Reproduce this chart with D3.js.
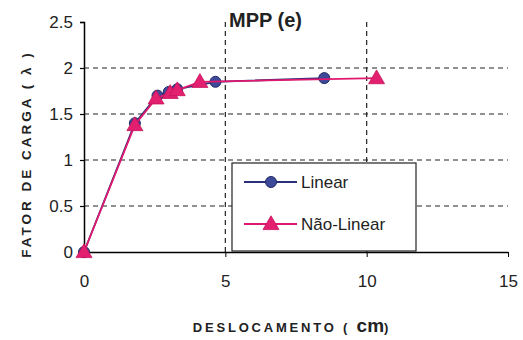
<!DOCTYPE html>
<html>
<head>
<meta charset="utf-8">
<script src="https://cdn.jsdelivr.net/npm/d3@7"></script>
<style>
  body { margin: 0; background: #fff; }
  text { font-family: "Liberation Sans", Arial, sans-serif; }
</style>
</head>
<body>
<svg id="chart" width="523" height="340"></svg>
<script>
// data
const linearX = [0, 1.8, 2.6, 3.0, 3.3, 4.65, 8.5];
const linearY = [0, 1.4, 1.7, 1.74, 1.77, 1.85, 1.89];
const naoLinearX = [0, 1.8, 2.55, 3.05, 3.3, 4.1, 10.35];
const naoLinearY = [0, 1.38, 1.67, 1.73, 1.76, 1.85, 1.89];
const xTicks = [0, 5, 10, 15];
const yTicks = [0, 0.5, 1, 1.5, 2, 2.5];
const seriesNames = ["Linear", "Não-Linear"];

const svg = d3.select("svg#chart");
const margin = { left: 84, top: 22 };
const width = 424;
const height = 230;

const xScale = d3.scaleLinear().domain([0, 15]).range([0, width]);
const yScale = d3.scaleLinear().domain([0, 2.5]).range([height, 0]);

let plot = svg.append("g")
    .attr("transform", `translate(${margin.left}, ${margin.top})`);

// gridlines
plot.append("g")
    .selectAll("line")
    .data(yTicks.filter(d => d > 0 && d < 2.5))
    .join("line")
    .attr("x1", 0)
    .attr("x2", width)
    .attr("y1", d => yScale(d))
    .attr("y2", d => yScale(d))
    .attr("stroke", "#222")
    .attr("stroke-width", 1.2)
    .style("stroke-dasharray", "5, 4");
plot.append("g")
    .selectAll("line")
    .data([5, 10])
    .join("line")
    .attr("x1", d => xScale(d))
    .attr("x2", d => xScale(d))
    .attr("y1", 0)
    .attr("y2", height)
    .attr("stroke", "#222")
    .attr("stroke-width", 1.2)
    .style("stroke-dasharray", "5, 4");

// axes
let leftAxis = d3.axisLeft(yScale).tickValues(yTicks).tickSize(4).tickFormat(d3.format(""));
let yAxisG = plot.append("g").call(leftAxis);
yAxisG.select(".domain").attr("stroke-width", 1.5);
yAxisG.selectAll("line").attr("stroke-width", 1.2);
yAxisG.selectAll("text").style("font-size", "17px").attr("fill", "#222").attr("dx", "-4").attr("dy", "0.35em");

let bottomAxis = d3.axisBottom(xScale).tickValues(xTicks).tickSize(5).tickSizeOuter(0);
let xAxisG = plot.append("g").attr("transform", `translate(0, ${height})`).call(bottomAxis);
xAxisG.select(".domain").attr("stroke-width", 1.5);
xAxisG.selectAll("text").style("font-size", "17px").attr("fill", "#222").attr("dy", "1.6em");

// lines
const lineGen = d3.line().x(d => xScale(d[0])).y(d => yScale(d[1]));
const linearPts = linearX.map((x, i) => [x, linearY[i]]);
const naoPts = naoLinearX.map((x, i) => [x, naoLinearY[i]]);

plot.append("path")
    .attr("d", lineGen(linearPts))
    .attr("fill", "none")
    .attr("stroke", "#2a2f7a")
    .attr("stroke-width", 1.8);
plot.selectAll("circle.lin")
    .data(linearPts)
    .join("circle")
    .attr("class", "lin")
    .attr("cx", d => xScale(d[0]))
    .attr("cy", d => yScale(d[1]))
    .attr("r", 5.5)
    .attr("fill", "#3d4a9a")
    .attr("stroke", "#232a66")
    .attr("stroke-width", 1);

plot.append("path")
    .attr("d", lineGen(naoPts))
    .attr("fill", "none")
    .attr("stroke", "#e0186e")
    .attr("stroke-width", 1.8);
const tri = d3.symbol().type(d3.symbolTriangle).size(110);
plot.selectAll("path.nl")
    .data(naoPts)
    .join("path")
    .attr("class", "nl")
    .attr("d", tri)
    .attr("transform", d => `translate(${xScale(d[0])}, ${yScale(d[1]) + 1})`)
    .attr("fill", "#e2206f")
    .attr("stroke", "#c8125c")
    .attr("stroke-width", 0.8);

// legend
let legend = plot.append("g").attr("transform", "translate(148, 141)");
legend.append("rect")
    .attr("width", 184)
    .attr("height", 88)
    .attr("fill", "#fff")
    .attr("stroke", "#222")
    .attr("stroke-width", 1.2);
seriesNames.forEach((name, i) => {
    let y = 19 + i * 42;
    let col = i === 0 ? "#2a2f7a" : "#e0186e";
    legend.append("line")
        .attr("x1", 12).attr("x2", 65)
        .attr("y1", y).attr("y2", y)
        .attr("stroke", col).attr("stroke-width", 1.8);
    if (i === 0) {
        legend.append("circle")
            .attr("cx", 39).attr("cy", y).attr("r", 5.5)
            .attr("fill", "#3d4a9a").attr("stroke", "#232a66");
    } else {
        legend.append("path")
            .attr("d", tri)
            .attr("transform", `translate(39, ${y + 1})`)
            .attr("fill", "#e2206f").attr("stroke", "#c8125c").attr("stroke-width", 0.8);
    }
    legend.append("text")
        .text(name)
        .attr("x", 69)
        .attr("y", y)
        .attr("dy", "0.35em")
        .style("font-size", "17px")
        .attr("fill", "#222");
});

// title
svg.append("text")
    .text("MPP (e)")
    .attr("x", 229)
    .attr("y", 27)
    .style("font-size", "20px")
    .style("font-weight", "bold")
    .attr("fill", "#222");

// axis labels
svg.append("text")
    .attr("transform", "translate(31, 154) rotate(-90)")
    .attr("text-anchor", "middle")
    .style("font-size", "13.5px")
    .style("font-weight", "bold")
    .style("letter-spacing", "3px")
    .attr("fill", "#222")
    .text("FATOR DE CARGA ( λ )");

let xl = svg.append("text")
    .attr("x", 292)
    .attr("y", 332)
    .attr("text-anchor", "middle")
    .style("font-size", "13px")
    .style("font-weight", "bold")
    .style("letter-spacing", "2.8px")
    .attr("fill", "#222");
xl.append("tspan").text("DESLOCAMENTO ( ");
xl.append("tspan").text("cm").style("font-size", "19px").style("letter-spacing", "0px");
xl.append("tspan").text(")");
</script>
</body>
</html>
